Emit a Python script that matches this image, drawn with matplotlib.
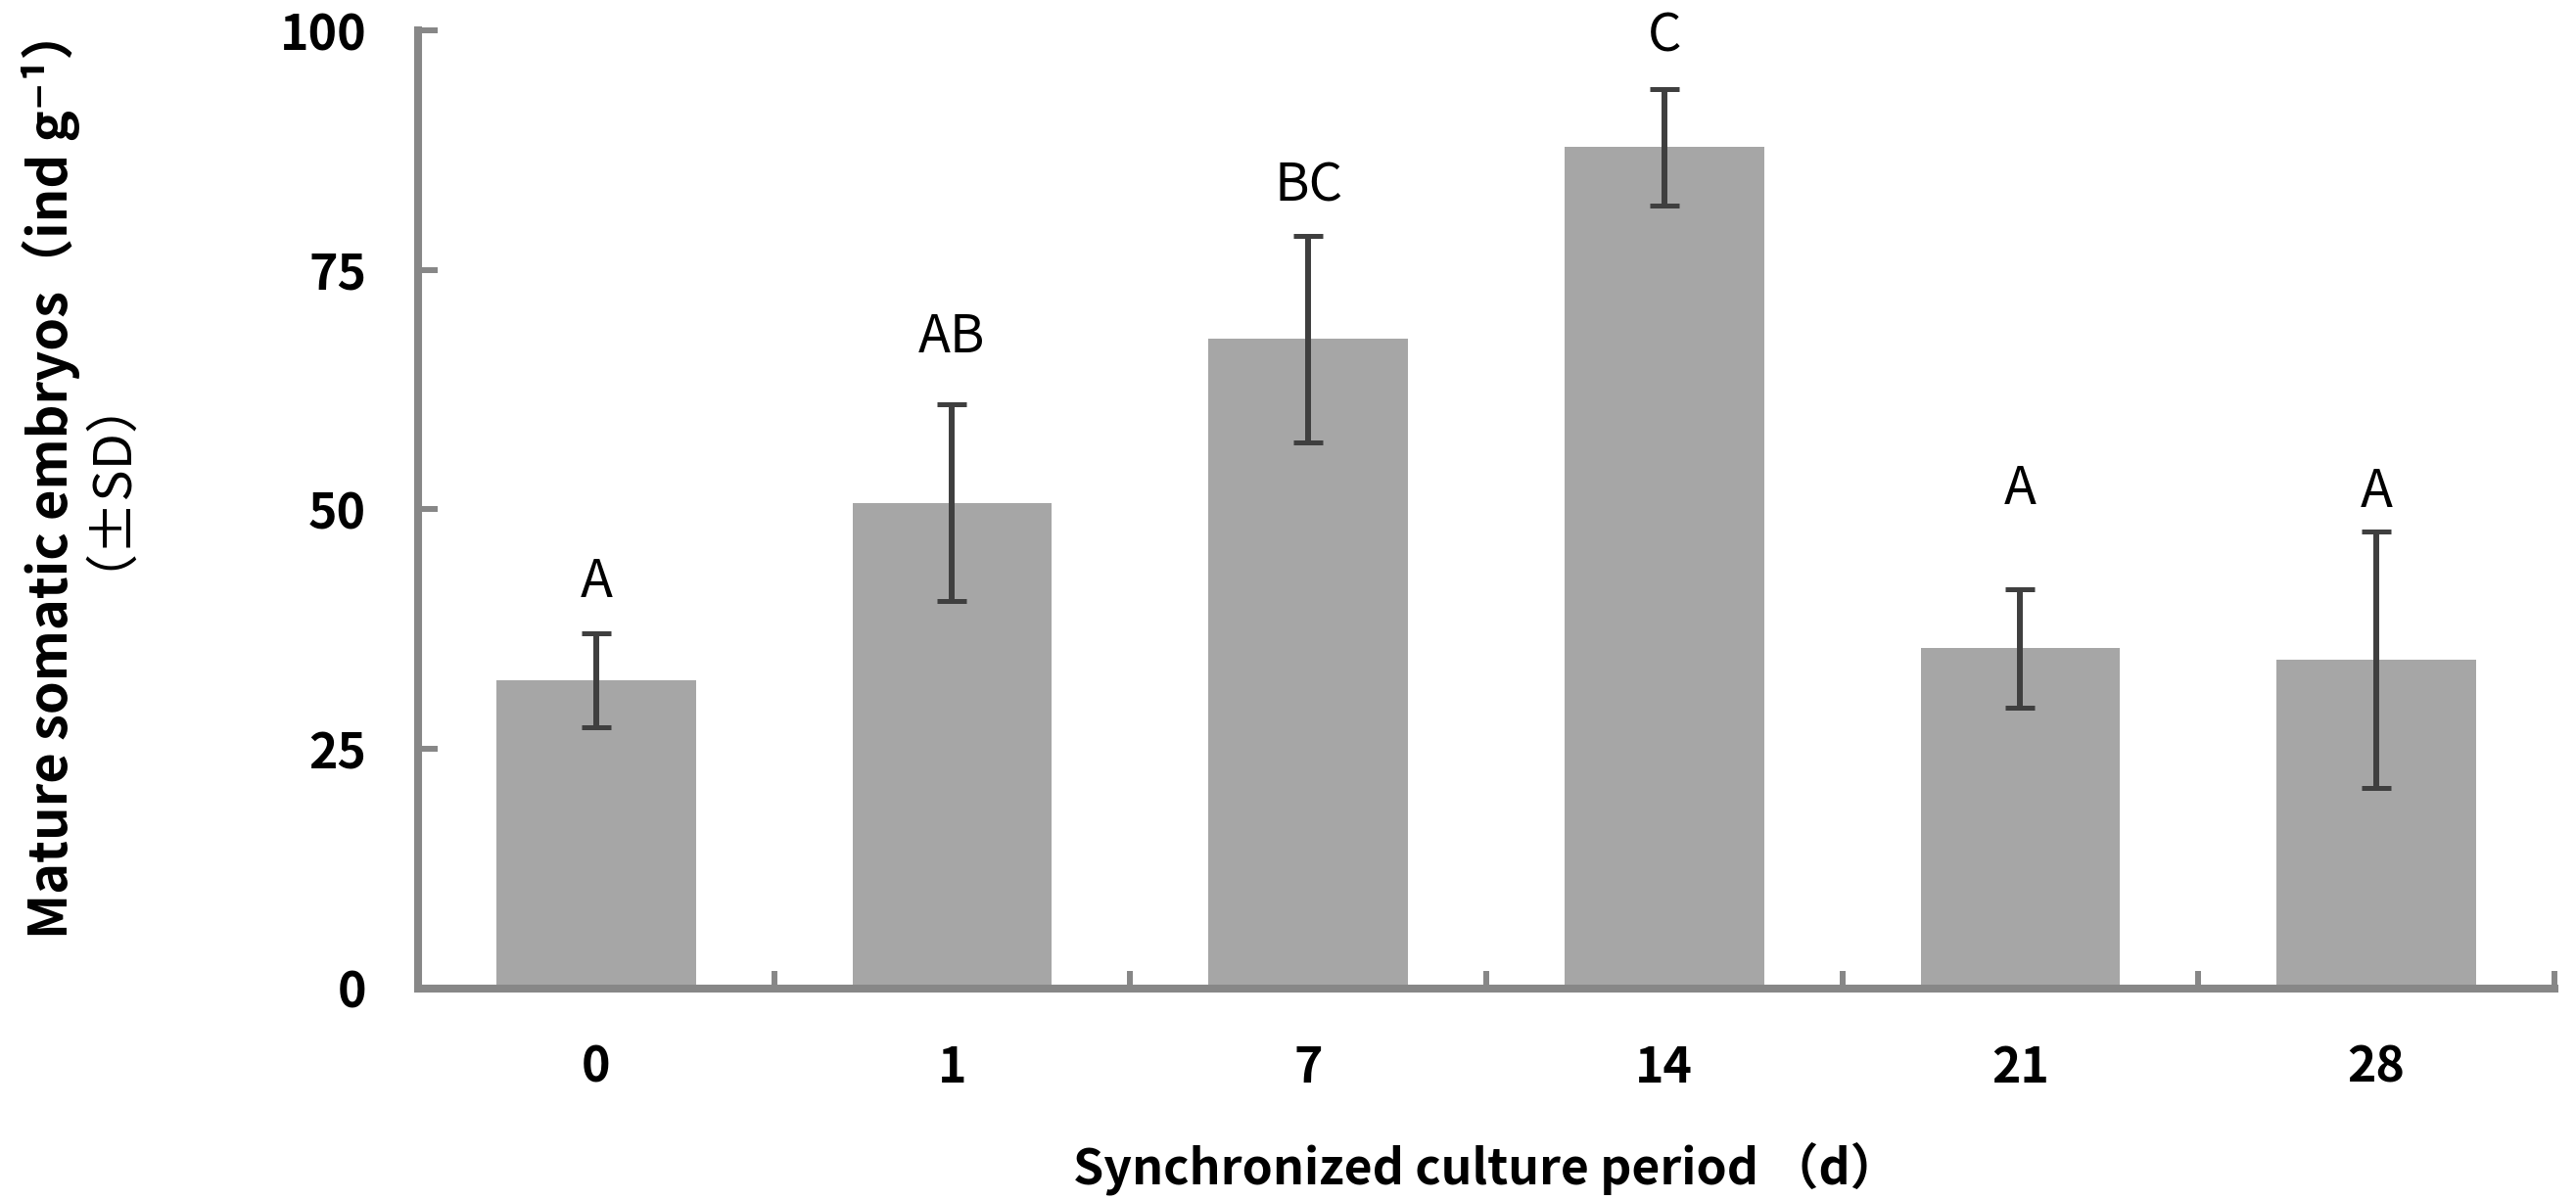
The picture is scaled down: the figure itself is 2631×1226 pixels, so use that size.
import matplotlib
matplotlib.use('Agg')
import matplotlib.pyplot as plt
import numpy as np

plt.rcParams['font.family'] = ['Noto Sans CJK SC', 'DejaVu Sans']

# data
periods = ['0', '1', '7', '14', '21', '28']
means = [32.2, 50.7, 67.8, 87.8, 35.5, 34.3]
sds = [4.9, 10.3, 10.8, 6.1, 6.2, 13.4]
letters = ['A', 'AB', 'BC', 'C', 'A', 'A']
letter_y = [40.9, 66.4, 82.2, 97.8, 50.6, 50.3]

fig = plt.figure(figsize=(26.31, 12.26), dpi=100)
ax = fig.add_axes([0.1623, 0.1762, 0.8293, 0.7985])

x = np.arange(len(periods))
ax.bar(x, means, width=0.56, color='#a6a6a6', zorder=2)
ax.errorbar(x, means, yerr=sds, fmt='none', ecolor='#3f3f3f',
            elinewidth=4.3, capsize=10.5, capthick=3.6, zorder=3)

for xi, lab, ly in zip(x, letters, letter_y):
    ax.text(xi, ly, lab, ha='center', va='baseline', fontsize=39)

ax.set_xlim(-0.5, 5.5)
ax.set_ylim(0, 100)

for side in ['top', 'right']:
    ax.spines[side].set_visible(False)
for side in ['left', 'bottom']:
    ax.spines[side].set_color('#878787')
    ax.spines[side].set_linewidth(5.8)

ax.set_yticks([0, 25, 50, 75, 100])
ax.tick_params(axis='y', direction='in', length=14.5, width=4.3,
               color='#878787', pad=38, labelsize=36)
ax.set_xticks(x)
ax.set_xticklabels(periods)
ax.set_xticks(np.arange(-0.5, 6.0, 1.0), minor=True)
ax.tick_params(axis='x', which='major', length=0, pad=40, labelsize=36)
ax.tick_params(axis='x', which='minor', direction='in', length=13,
               width=4.3, color='#878787')
for lab in ax.get_xticklabels() + ax.get_yticklabels():
    lab.set_fontweight('bold')

ax.set_xlabel('Synchronized culture period （d）', fontsize=36,
              fontweight='bold', labelpad=36)

# two-line y label, second line lighter as in the original
fig.text(0.0198, 0.606, 'Mature somatic embryos（ind g⁻¹）', rotation=90,
         ha='center', va='center', fontsize=39, fontweight='bold')
fig.text(0.031, 0.62, '（±SD）', rotation=90,
         ha='center', va='center', fontsize=39)

fig.savefig('out.png', dpi=100)
